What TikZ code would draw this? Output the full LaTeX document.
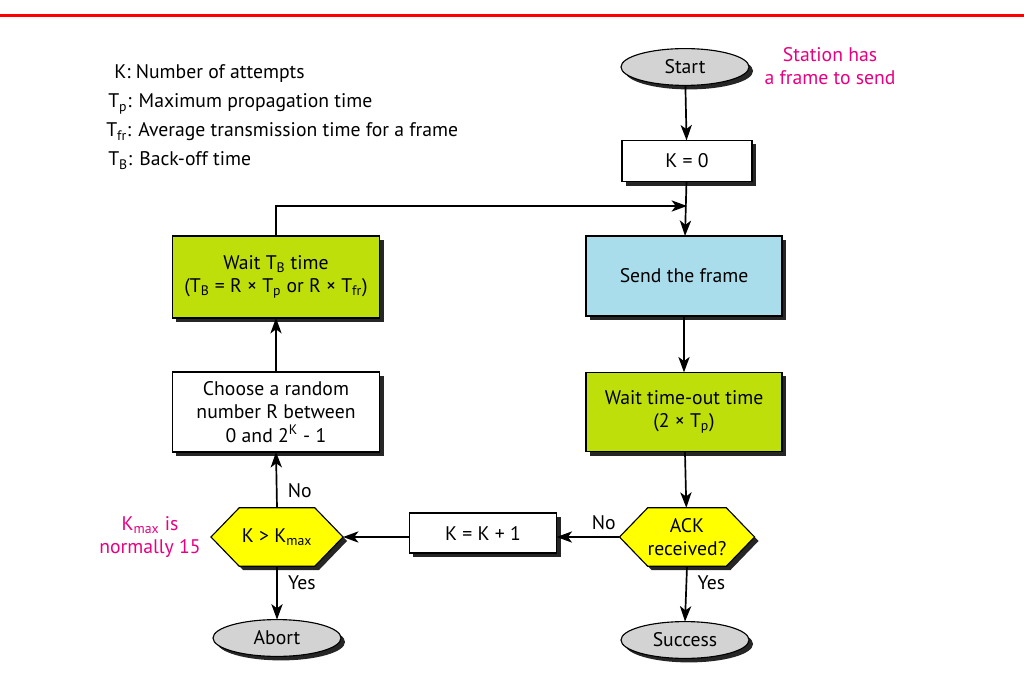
\documentclass[tikz,border=0pt]{standalone}
\usepackage{fontspec}
\setmainfont{PT Sans}
\usetikzlibrary{arrows.meta,shapes.geometric,shapes.symbols,shadows}

\definecolor{waitgreen}{RGB}{191,223,11}
\definecolor{sendblue}{RGB}{170,221,236}
\definecolor{askyellow}{RGB}{255,255,0}
\definecolor{termgray}{RGB}{211,211,211}
\definecolor{notepink}{RGB}{232,0,128}
\definecolor{rulered}{RGB}{255,0,0}

\tikzset{
  every node/.style={font=\fontsize{14pt}{16.5pt}\selectfont},
  darkshadow/.style={drop shadow={shadow xshift=0.1cm, shadow yshift=-0.1cm, fill=black!85, opacity=1}},
  stepbox/.style={draw, line width=0.8pt, fill=white, darkshadow, align=center,
    inner sep=0pt, outer sep=0pt},
  terminal/.style={ellipse, draw, line width=0.8pt, fill=termgray, darkshadow,
    minimum width=3.2cm, minimum height=0.92cm, inner sep=0pt, outer sep=0pt},
  decision/.style={signal, signal to=east and west, signal pointer angle=92, draw,
    line width=0.8pt, fill=askyellow, darkshadow, align=center,
    minimum width=3.3cm, minimum height=1.46cm, inner sep=0pt, outer sep=0pt},
  flow/.style={-{Stealth[length=11pt, width=8pt, inset=3pt]}, line width=1.2pt},
  note/.style={text=notepink, align=center},
  legend/.style={anchor=base west, inner sep=0pt}
}

\begin{document}
\begin{tikzpicture}[x=0.025cm, y=-0.025cm]
  \useasboundingbox (0,0) rectangle (1024,688);

  % red rule on top
  \draw[rulered, line width=1.6pt] (0,15.5) -- (1024,15.5);

  % legend
  \node[legend] (lk) at (114,79) {K: Number of attempts};
  \node[legend] (ltp) at (108,108) {T\textsubscript{p}: Maximum propagation time};
  \node[legend] (ltfr) at (106,137) {T\textsubscript{fr}: Average transmission time for a frame};
  \node[legend] (ltb) at (108,166) {T\textsubscript{B}: Back-off time};

  % right column
  \node[terminal] (start) at (685,67) {Start};
  \node[note] (station) at (830,66) {Station has\\a frame to send};
  \node[stepbox, minimum width=3.25cm, minimum height=1.03cm] (k0) at (687,161) {K = 0};
  \node[stepbox, fill=sendblue, minimum width=4.9cm, minimum height=2cm] (send) at (684,276) {Send the frame};
  \node[stepbox, fill=waitgreen, minimum width=4.9cm, minimum height=1.98cm] (timeout) at (684,412)
    {Wait time-out time\\(2 × T\textsubscript{p})};
  \node[decision] (ack) at (687,537) {ACK\\received?};
  \node[terminal] (success) at (685,640) {Success};

  % bottom row
  \node[stepbox, minimum width=3.68cm, minimum height=1cm] (inc) at (483,533) {K = K + 1};

  % left column
  \node[stepbox, fill=waitgreen, minimum width=5.18cm, minimum height=2.05cm] (wait) at (276,277)
    {Wait T\textsubscript{B} time\\(T\textsubscript{B} = R × T\textsubscript{p} or R × T\textsubscript{fr})};
  \node[stepbox, minimum width=5.18cm, minimum height=2cm] (choose) at (276,412)
    {Choose a random\\number R between\\0 and 2\textsuperscript{K} - 1};
  \node[decision] (kmax) at (277,537) {K > K\textsubscript{max}};
  \node[note] (kmaxnote) at (150,537) {K\textsubscript{max} is\\normally 15};
  \node[terminal] (abort) at (277,638) {Abort};

  % connectors
  \coordinate (join) at (687,206);
  \draw[flow] (start) -- (k0);
  \draw[flow] (k0) -- (send);
  \draw[flow] (wait.north) |- (join);
  \draw[flow] (send) -- (timeout);
  \draw[flow] (timeout) -- (ack);
  \draw[flow] (ack.west) -- (inc.east |- ack.west) node[pos=0.25, above=1pt] {No};
  \draw[flow] (inc.west |- kmax.east) -- (kmax.east);
  \draw[flow] (kmax.north) -- (choose.south) node[pos=0.3, right=4pt] {No};
  \draw[flow] (choose) -- (wait);
  \draw[flow] (kmax.south) -- (abort.north) node[pos=0.3, right=4pt] {Yes};
  \draw[flow] (ack.south) -- (success.north) node[pos=0.3, right=4pt] {Yes};
\end{tikzpicture}
\end{document}
